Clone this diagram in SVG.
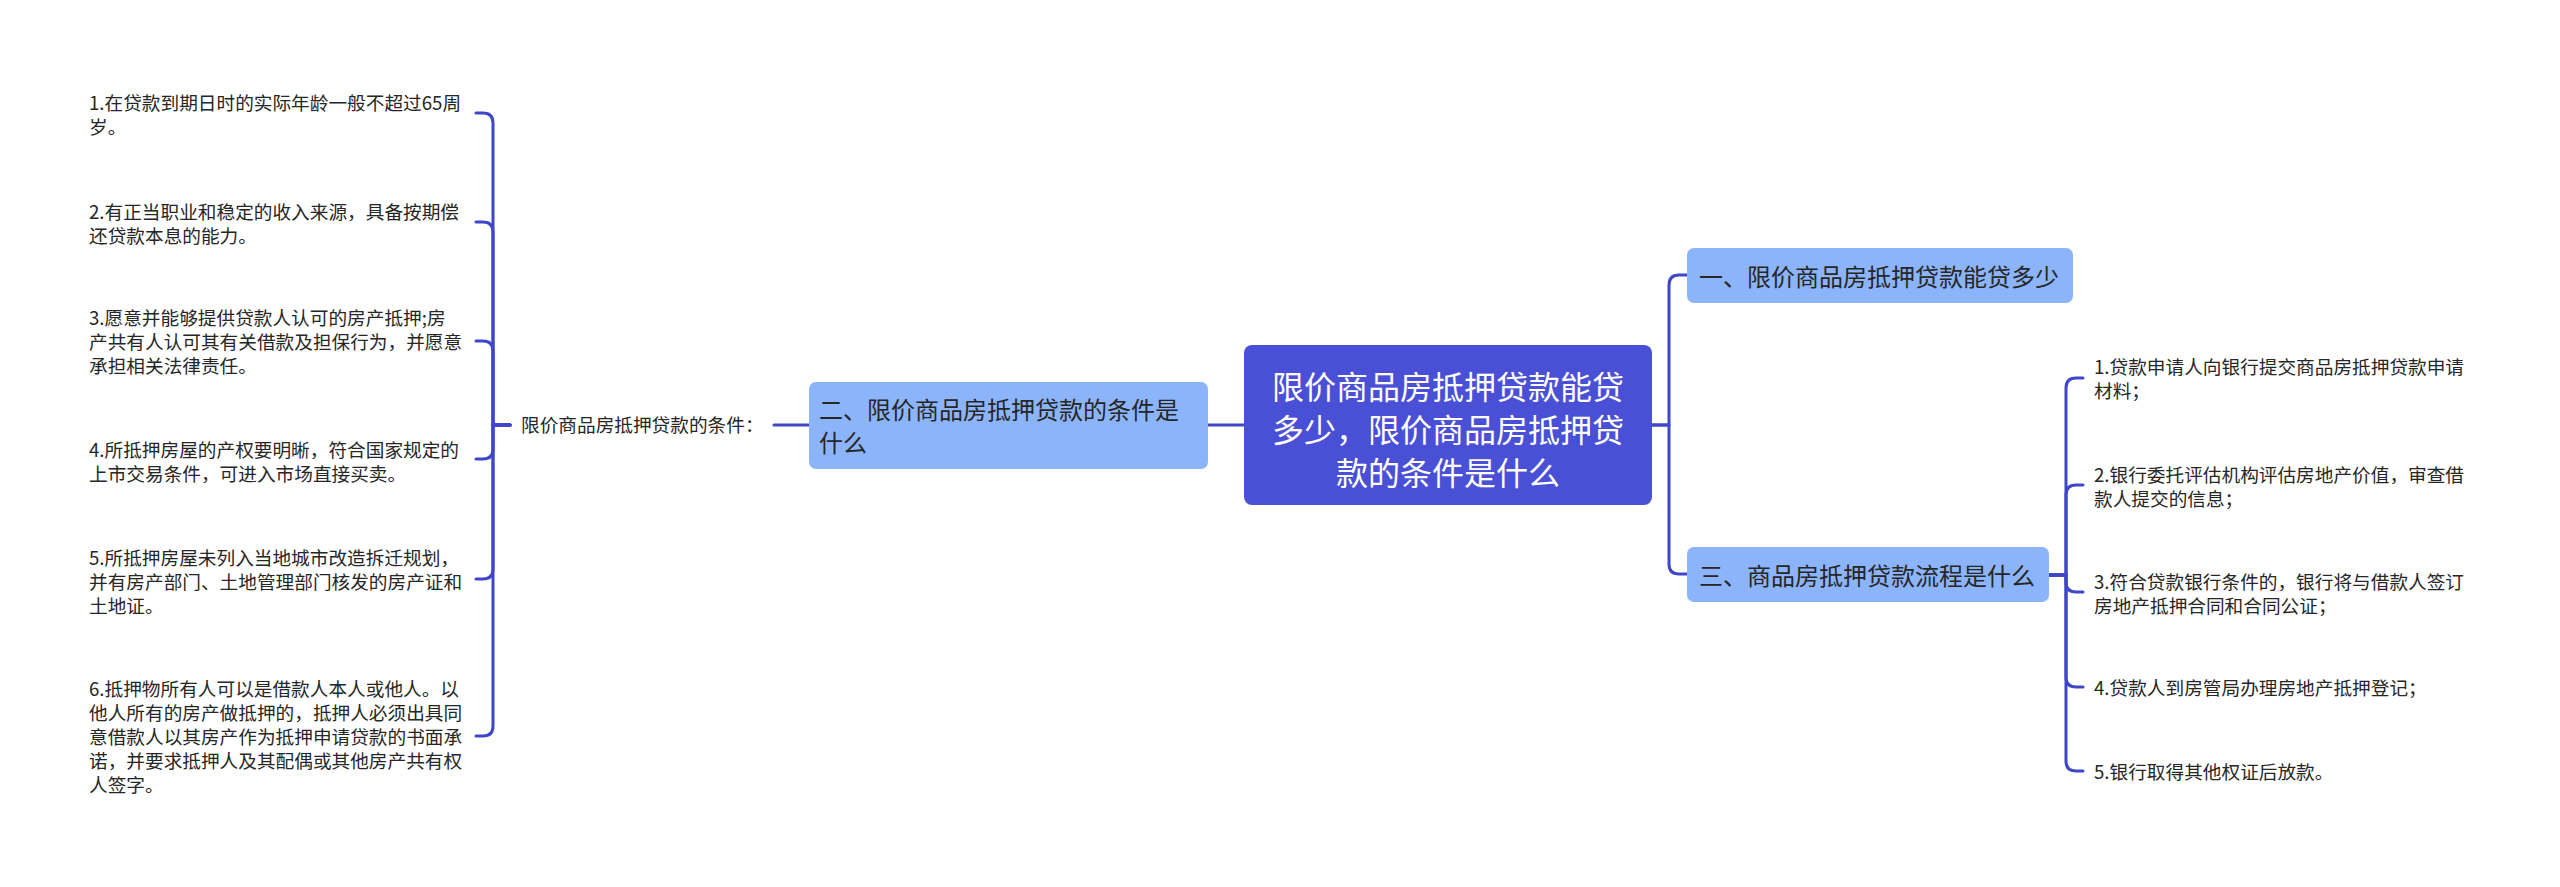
<svg xmlns="http://www.w3.org/2000/svg" width="2560" height="887" viewBox="0 0 2560 887">
<style>
.t{font-family:"Noto Sans CJK SC","Noto Sans",sans-serif;fill:#262626}
.leaf{font-size:18.67px}
.sub{font-size:24px}
.root{font-size:32px;fill:#ffffff;text-anchor:middle}
.box{fill:#8cb4fa}
.rootbox{fill:#4a50d6}
.c{fill:none;stroke:#3f46c8;stroke-width:3;stroke-linecap:round;stroke-linejoin:round}
</style>
<rect width="2560" height="887" fill="#ffffff"/>
<g id="connectors">
<path class="c" d="M1244,425 H1208"/>
<path class="c" d="M809,425 H774"/>
<path class="c" d="M510,425 H493 V123 Q493,113 483,113 H476"/>
<path class="c" d="M510,425 H493 V232 Q493,222 483,222 H476"/>
<path class="c" d="M510,425 H493 V351 Q493,341 483,341 H476"/>
<path class="c" d="M510,425 H493 V449 Q493,459 483,459 H476"/>
<path class="c" d="M510,425 H493 V569 Q493,579 483,579 H476"/>
<path class="c" d="M510,425 H493 V726 Q493,736 483,736 H476"/>
<path class="c" d="M1652,425 H1669 V285 Q1669,275 1679,275 H1687"/>
<path class="c" d="M1652,425 H1669 V564 Q1669,574 1679,574 H1687"/>
<path class="c" d="M2049,575 H2066 V388 Q2066,378 2076,378 H2083"/>
<path class="c" d="M2049,575 H2066 V495 Q2066,485 2076,485 H2083"/>
<path class="c" d="M2049,575 H2066 V582 Q2066,592 2076,592 H2083"/>
<path class="c" d="M2049,575 H2066 V677 Q2066,687 2076,687 H2083"/>
<path class="c" d="M2049,575 H2066 V761 Q2066,771 2076,771 H2083"/>
</g>
<g id="root">
<rect class="rootbox" x="1244" y="345" width="408" height="160" rx="8"/>
<text class="t root"><tspan x="1448" y="398.5">限价商品房抵押贷款能贷</tspan><tspan x="1448" y="441.5">多少，限价商品房抵押贷</tspan><tspan x="1448" y="484.5">款的条件是什么</tspan></text>
</g>
<g id="n2">
<rect class="box" x="809" y="382" width="399" height="87" rx="7"/>
<text class="t sub"><tspan x="819" y="418.6">二、限价商品房抵押贷款的条件是</tspan><tspan x="819" y="451.6">什么</tspan></text>
</g>
<g id="n1">
<rect class="box" x="1687" y="248" width="386" height="55" rx="7"/>
<text class="t sub" x="1699" y="285.6">一、限价商品房抵押贷款能贷多少</text>
</g>
<g id="n3">
<rect class="box" x="1687" y="547" width="362" height="55" rx="7"/>
<text class="t sub" x="1699" y="584.6">三、商品房抵押贷款流程是什么</text>
</g>
<g id="label">
<text class="t leaf" x="521" y="431.7">限价商品房抵押贷款的条件：</text>
</g>
<g id="l1">
<text class="t leaf"><tspan x="89" y="109.7">1.在贷款到期日时的实际年龄一般不超过65周</tspan><tspan x="89" y="133.7">岁。</tspan></text>
</g>
<g id="l2">
<text class="t leaf"><tspan x="89" y="218.7">2.有正当职业和稳定的收入来源，具备按期偿</tspan><tspan x="89" y="242.7">还贷款本息的能力。</tspan></text>
</g>
<g id="l3">
<text class="t leaf"><tspan x="89" y="324.7">3.愿意并能够提供贷款人认可的房产抵押;房</tspan><tspan x="89" y="348.7">产共有人认可其有关借款及担保行为，并愿意</tspan><tspan x="89" y="372.7">承担相关法律责任。</tspan></text>
</g>
<g id="l4">
<text class="t leaf"><tspan x="89" y="456.7">4.所抵押房屋的产权要明晰，符合国家规定的</tspan><tspan x="89" y="480.7">上市交易条件，可进入市场直接买卖。</tspan></text>
</g>
<g id="l5">
<text class="t leaf"><tspan x="89" y="564.7">5.所抵押房屋未列入当地城市改造拆迁规划，</tspan><tspan x="89" y="588.7">并有房产部门、土地管理部门核发的房产证和</tspan><tspan x="89" y="612.7">土地证。</tspan></text>
</g>
<g id="l6">
<text class="t leaf"><tspan x="89" y="695.7">6.抵押物所有人可以是借款人本人或他人。以</tspan><tspan x="89" y="719.7">他人所有的房产做抵押的，抵押人必须出具同</tspan><tspan x="89" y="743.7">意借款人以其房产作为抵押申请贷款的书面承</tspan><tspan x="89" y="767.7">诺，并要求抵押人及其配偶或其他房产共有权</tspan><tspan x="89" y="791.7">人签字。</tspan></text>
</g>
<g id="r1">
<text class="t leaf"><tspan x="2094" y="373.7">1.贷款申请人向银行提交商品房抵押贷款申请</tspan><tspan x="2094" y="397.7">材料；</tspan></text>
</g>
<g id="r2">
<text class="t leaf"><tspan x="2094" y="481.7">2.银行委托评估机构评估房地产价值，审查借</tspan><tspan x="2094" y="505.7">款人提交的信息；</tspan></text>
</g>
<g id="r3">
<text class="t leaf"><tspan x="2094" y="588.7">3.符合贷款银行条件的，银行将与借款人签订</tspan><tspan x="2094" y="612.7">房地产抵押合同和合同公证；</tspan></text>
</g>
<g id="r4">
<text class="t leaf" x="2094" y="694.7">4.贷款人到房管局办理房地产抵押登记；</text>
</g>
<g id="r5">
<text class="t leaf" x="2094" y="778.7">5.银行取得其他权证后放款。</text>
</g>
</svg>
